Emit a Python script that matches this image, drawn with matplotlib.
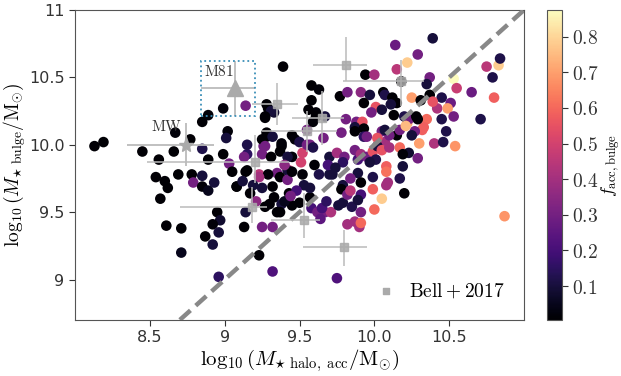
import matplotlib
matplotlib.use("Agg")
import matplotlib.pyplot as plt
from matplotlib.patches import Rectangle
import numpy as np

plt.rcParams['mathtext.fontset'] = 'cm'

# ---- simulated galaxies: x = log10 M*halo,acc ; y = log10 M*bulge ; f = f_acc,bulge
gal_x = [8.13, 8.19, 8.45, 8.56, 8.66, 8.67, 8.77, 8.85, 8.89, 8.85, 8.89, 8.99, 9.02, 9.01, 8.99,
         9.14, 9.03, 8.54, 8.60, 8.62, 8.69, 8.78, 8.79, 8.85, 8.85, 8.89, 8.93, 8.57, 8.61, 8.71,
         8.71, 8.95, 8.97, 8.92, 8.96, 8.87, 8.92, 8.96, 9.08, 9.15, 9.14, 9.23, 9.39, 9.27, 9.29,
         9.33, 9.26, 9.28, 9.38, 9.45, 9.45, 9.58, 9.58, 9.55, 9.57, 9.52, 9.43, 9.63, 9.61,
         9.94, 10.00, 9.28, 9.31, 9.27, 9.56, 9.61, 9.67, 9.59, 9.77, 9.82, 9.91, 9.97, 10.06,
         9.93, 10.01, 10.05, 9.81, 9.88, 9.92, 9.87, 9.93, 9.78, 9.93, 10.05, 10.07, 9.47, 9.28,
         9.25, 9.32, 9.38, 9.50, 9.55, 9.59, 9.15, 9.27, 9.25, 9.13, 9.31, 9.37, 9.42, 9.51,
         9.70, 9.75, 9.80, 9.79, 9.87, 9.89, 9.91, 9.95, 9.99, 10.02, 10.08, 9.72, 9.15, 9.42,
         9.35, 9.52, 9.63, 9.29, 9.05,
         9.08, 9.12, 9.23, 9.19, 9.25, 9.17, 9.21, 9.14, 9.13, 9.27, 9.32, 9.33, 9.37, 9.38,
         9.42, 9.43, 9.45, 9.50, 9.37, 9.32, 9.25, 9.57, 9.57, 9.58, 9.62, 9.67, 9.71, 9.65,
         9.23, 9.32, 9.75, 9.70, 9.79, 9.78, 9.79, 9.82, 9.85, 9.91, 9.82, 9.87, 9.90, 9.91,
         9.89, 9.91, 9.91, 9.89, 9.99, 9.99, 10.05, 10.08, 10.08, 10.20, 9.35, 9.45, 9.30, 9.40,
         10.05, 10.10, 10.17, 10.15, 10.10, 10.23, 10.29, 10.19, 10.01, 9.97, 10.19, 10.17, 10.09,
         10.30, 10.40, 10.46, 10.54, 10.48, 10.32, 10.87,
         10.14, 10.39, 10.29, 10.22, 10.15, 10.37, 10.53, 10.35, 10.55, 10.65, 10.71, 10.75,
         10.83, 10.84, 10.79, 10.80, 10.25, 10.31, 10.37, 10.45, 10.51, 10.42, 10.49, 10.53,
         10.45, 10.39, 10.35, 10.33, 10.27, 10.22, 10.07, 10.12, 10.15, 10.11, 10.13, 10.20,
         10.23, 10.28, 10.07, 10.17, 10.25, 9.98, 10.29, 10.21, 9.87, 10.02, 9.95, 10.18,
         9.66, 9.69, 9.74, 9.84, 9.60, 9.53, 9.48, 9.40, 9.44, 9.64, 9.68, 9.84, 9.76, 10.00]
gal_y = [9.99, 10.02, 9.95, 9.89, 9.95, 10.09, 10.04, 10.17, 10.22, 9.97, 9.89, 10.27, 10.10, 10.05, 9.93,
         10.29, 9.86, 9.76, 9.73, 9.68, 9.78, 9.78, 9.72, 9.77, 9.69, 9.66, 9.72, 9.60, 9.40, 9.38,
         9.20, 9.50, 9.44, 9.41, 9.35, 9.32, 9.26, 9.02, 9.69, 9.93, 9.80, 9.78, 10.58, 10.20, 10.27,
         10.24, 9.99, 10.06, 9.99, 10.07, 9.91, 10.44, 10.33, 10.11, 10.00, 9.94, 9.81, 10.41, 10.24,
         10.52, 10.52, 10.30, 10.25, 10.21, 10.26, 10.21, 10.21, 10.17, 10.36, 10.39, 10.39, 10.37, 10.39,
         10.31, 10.28, 10.26, 10.19, 10.17, 10.17, 10.13, 10.12, 10.09, 10.06, 10.10, 10.02, 10.04, 10.09,
         10.04, 10.06, 10.01, 10.02, 10.00, 9.98, 10.00, 9.99, 9.93, 9.91, 9.91, 9.95, 9.91, 9.87,
         9.91, 9.94, 9.91, 9.87, 9.96, 9.89, 9.93, 9.91, 9.95, 9.99, 9.84, 9.78, 9.81, 9.81,
         9.79, 9.78, 9.78, 9.78, 9.80,
         9.69, 9.73, 9.76, 9.70, 9.68, 9.64, 9.58, 9.50, 9.39, 9.54, 9.69, 9.61, 9.76, 9.56,
         9.74, 9.64, 9.80, 9.57, 9.50, 9.39, 9.39, 9.61, 9.68, 9.53, 9.50, 9.50, 9.50, 9.53,
         9.18, 9.06, 9.01, 9.78, 9.70, 9.67, 9.57, 9.63, 9.54, 9.50, 9.41, 9.43, 9.39, 9.42,
         9.79, 9.72, 9.63, 9.59, 9.76, 9.67, 9.60, 9.70, 9.80, 9.64, 9.50, 9.55, 9.56, 9.58,
         9.96, 9.98, 9.98, 10.07, 10.07, 9.94, 9.90, 9.93, 9.89, 9.87, 9.84, 9.75, 9.72,
         10.01, 10.01, 10.02, 9.99, 10.10, 10.11, 9.47,
         10.74, 10.79, 10.67, 10.61, 10.56, 10.50, 10.49, 10.45, 10.42, 10.39, 10.19, 10.58,
         10.59, 10.64, 10.50, 10.35, 10.35, 10.33, 10.37, 10.35, 10.31, 10.27, 10.27, 10.21,
         10.19, 10.32, 10.19, 10.13, 10.10, 10.16, 10.37, 10.35, 10.31, 10.30, 10.22, 10.21,
         10.19, 10.21, 10.11, 10.11, 10.07, 10.24, 10.19, 10.14, 10.10, 10.05, 10.06, 10.47,
         10.05, 9.85, 9.83, 9.75, 9.85, 9.70, 9.66, 9.85, 9.62, 9.45, 9.58, 9.66, 9.55, 9.52]
gal_f = [0.01, 0.01, 0.01, 0.01, 0.01, 0.02, 0.01, 0.01, 0.02, 0.12, 0.01, 0.02, 0.02, 0.10, 0.01,
         0.30, 0.30, 0.01, 0.01, 0.01, 0.01, 0.01, 0.30, 0.10, 0.02, 0.05, 0.10, 0.01, 0.01, 0.01,
         0.05, 0.01, 0.08, 0.02, 0.10, 0.01, 0.10, 0.15, 0.01, 0.15, 0.01, 0.45, 0.01, 0.01, 0.01,
         0.08, 0.30, 0.01, 0.02, 0.01, 0.02, 0.01, 0.01, 0.30, 0.30, 0.50, 0.50, 0.02, 0.02,
         0.01, 0.40, 0.01, 0.10, 0.01, 0.01, 0.01, 0.10, 0.02, 0.01, 0.30, 0.35, 0.10, 0.01,
         0.01, 0.55, 0.10, 0.30, 0.30, 0.55, 0.10, 0.01, 0.30, 0.15, 0.30, 0.40, 0.02, 0.01,
         0.01, 0.10, 0.02, 0.12, 0.30, 0.12, 0.12, 0.30, 0.30, 0.30, 0.01, 0.01, 0.10, 0.50,
         0.10, 0.40, 0.30, 0.15, 0.30, 0.20, 0.40, 0.30, 0.55, 0.10, 0.58, 0.10, 0.01, 0.10,
         0.30, 0.02, 0.12, 0.02, 0.01,
         0.01, 0.10, 0.40, 0.10, 0.10, 0.01, 0.35, 0.10, 0.01, 0.01, 0.01, 0.01, 0.01, 0.10,
         0.30, 0.01, 0.02, 0.01, 0.01, 0.30, 0.30, 0.01, 0.10, 0.20, 0.30, 0.30, 0.42, 0.20,
         0.01, 0.22, 0.22, 0.10, 0.10, 0.01, 0.10, 0.30, 0.12, 0.30, 0.40, 0.40, 0.40, 0.60,
         0.10, 0.01, 0.20, 0.10, 0.12, 0.58, 0.78, 0.40, 0.62, 0.01, 0.01, 0.01, 0.01, 0.05,
         0.55, 0.40, 0.60, 0.01, 0.30, 0.08, 0.30, 0.02, 0.12, 0.10, 0.10, 0.12, 0.40,
         0.70, 0.42, 0.12, 0.68, 0.12, 0.58, 0.68,
         0.28, 0.10, 0.30, 0.78, 0.45, 0.30, 0.87, 0.10, 0.48, 0.28, 0.12, 0.45,
         0.78, 0.12, 0.12, 0.58, 0.70, 0.01, 0.01, 0.12, 0.28, 0.42, 0.70, 0.30,
         0.12, 0.55, 0.60, 0.58, 0.30, 0.72, 0.12, 0.01, 0.01, 0.10, 0.01, 0.12,
         0.30, 0.01, 0.10, 0.30, 0.10, 0.30, 0.01, 0.75, 0.01, 0.55, 0.30, 0.01,
         0.30, 0.20, 0.10, 0.30, 0.01, 0.10, 0.20, 0.35, 0.30, 0.25, 0.15, 0.45, 0.10, 0.60]

# ---- Bell+2017 observations
bell_x = [9.81, 10.18, 9.35, 9.65, 9.55, 9.20, 9.18, 9.53, 9.80]
bell_y = [10.59, 10.47, 10.30, 10.20, 10.10, 9.87, 9.54, 9.44, 9.24]
bell_xlo = [0.22, 0.39, 0.17, 0.20, 0.30, 0.72, 0.48, 0.22, 0.28]
bell_xhi = [0.14, 0.15, 0.14, 0.15, 0.20, 0.23, 0.10, 0.11, 0.15]
bell_ylo = [0.12, 0.18, 0.15, 0.20, 0.15, 0.15, 0.12, 0.13, 0.14]
bell_yhi = [0.21, 0.16, 0.16, 0.20, 0.15, 0.20, 0.15, 0.20, 0.13]

# ---- MW and M81
mw_x, mw_y, mw_xerr, mw_yerr = 8.74, 10.0, [[0.39], [0.19]], [[0.16], [0.16]]
m81_x, m81_y, m81_xerr, m81_yerr = 9.07, 10.42, [[0.23], [0.13]], [[0.21], [0.20]]
m81_box = (8.84, 10.21, 0.36, 0.41)

xticks = [8.5, 9.0, 9.5, 10.0, 10.5]
xticklabels = ['8.5', '9', '9.5', '10.0', '10.5']
yticks = [9.0, 9.5, 10.0, 10.5, 11.0]
yticklabels = ['9', '9.5', '10.0', '10.5', '11']
cticks = [0.1, 0.2, 0.3, 0.4, 0.5, 0.6, 0.7, 0.8]

fig = plt.figure(figsize=(6.21, 3.76), dpi=100)
ax = fig.add_axes([0.1208, 0.149, 0.7230, 0.8244])
cax = fig.add_axes([0.881, 0.149, 0.024, 0.8244])

sc = ax.scatter(gal_x, gal_y, c=gal_f, cmap='magma', vmin=0.005, vmax=0.875,
                s=58, linewidths=0, zorder=2)

ax.plot([8, 11], [8, 11], color='#888888', ls=(0, (3.2, 1.6)), lw=3.2, zorder=3)

ax.errorbar(bell_x, bell_y, xerr=[bell_xlo, bell_xhi], yerr=[bell_ylo, bell_yhi],
            fmt='s', color='#aaaaaa', ecolor='#bbbbbb', ms=5.5, elinewidth=1.3,
            capsize=0, alpha=0.85, zorder=4)
ax.errorbar([mw_x], [mw_y], xerr=mw_xerr, yerr=mw_yerr, fmt='*', color='#aaaaaa',
            ecolor='#bbbbbb', ms=11, elinewidth=1.3, zorder=4)
ax.errorbar([m81_x], [m81_y], xerr=m81_xerr, yerr=m81_yerr, fmt='^', color='#aaaaaa',
            ecolor='#bbbbbb', ms=11, elinewidth=1.3, zorder=4)
ax.add_patch(Rectangle(m81_box[:2], m81_box[2], m81_box[3], fill=False,
                       ec='#3a8fb7', ls=':', lw=1.3, zorder=5))
ax.text(8.51, 10.135, r'$\rm MW$', fontsize=11, va='center', ha='left', color='#333333', zorder=6)
ax.text(8.86, 10.54, r'$\rm M81$', fontsize=11, va='center', ha='left', color='#333333', zorder=6)

# legend
ax.scatter([], [], marker='s', color='#aaaaaa', s=24, label=r'$\rm Bell+2017$')
leg = ax.legend(loc='lower right', frameon=False, fontsize=14, handletextpad=0.2,
                borderaxespad=0.6, markerscale=1.0)

ax.set_xlim(8, 11)
ax.set_ylim(8.7, 11)
ax.set_xticks(xticks)
ax.set_xticklabels(xticklabels)
ax.set_yticks(yticks)
ax.set_yticklabels(yticklabels)
ax.tick_params(labelsize=11.5, colors='#333333', length=4)
for sp in ax.spines.values():
    sp.set_color('#555555')

ax.set_xlabel(r'$\log_{10}(M_{\star\ \rm halo,\ acc}/\rm M_{\odot})$', fontsize=15, labelpad=1)
ax.set_ylabel(r'$\log_{10}(M_{\star\ \rm bulge}/\rm M_{\odot})$', fontsize=14)
ax.yaxis.set_label_coords(-0.104, 0.5)

cb = fig.colorbar(sc, cax=cax)
cb.set_ticks(cticks)
cb.set_ticklabels([r'$%.1f$' % t for t in cticks])
cb.ax.tick_params(labelsize=14, colors='#333333', length=4)
cb.outline.set_edgecolor('#555555')
cb.set_label(r'$f_{\rm acc,bulge}$', fontsize=13)
cb.ax.yaxis.set_label_coords(3.55, 0.5)

fig.savefig('out.png', dpi=100)
